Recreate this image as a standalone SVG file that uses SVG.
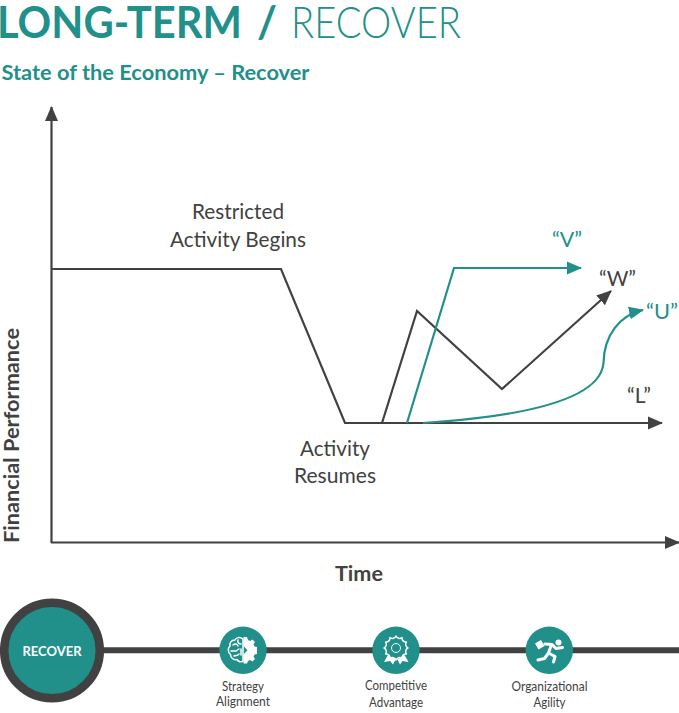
<svg xmlns="http://www.w3.org/2000/svg" width="679" height="713" viewBox="0 0 679 713">
<defs>
<marker id="ad" markerUnits="userSpaceOnUse" markerWidth="15" markerHeight="14" refX="14" refY="7" orient="auto"><path d="M0 0.500L15 7L0 13.500Z" fill="#414141"/></marker>
<marker id="at" markerUnits="userSpaceOnUse" markerWidth="15" markerHeight="14" refX="14" refY="7" orient="auto"><path d="M0 0.500L15 7L0 13.500Z" fill="#21908a"/></marker>
</defs>
<style>
text{font-family:Lato,"Open Sans",sans-serif}
.l{fill:#414141;font-size:21px;text-anchor:middle}
.t{fill:#21908a;font-size:21px;text-anchor:middle}
.s{fill:#414141;font-size:12.500px;text-anchor:middle}
.k{fill:none;stroke:#414141;stroke-width:2.200}
.g{fill:none;stroke:#21908a;stroke-width:2.200}
.w{fill:none;stroke:#fff;stroke-width:1.500;stroke-linejoin:round;stroke-linecap:round}
.f{fill:#fff}
</style>
<g id="title">
<text x="-3" y="38" font-size="43" font-weight="700" fill="#21908a" textLength="245" lengthAdjust="spacingAndGlyphs">LONG-TERM</text>
<text x="257" y="38" font-size="43" font-weight="700" fill="#21908a">/</text>
<text x="291" y="38" font-size="43" font-weight="300" fill="#21908a" textLength="170" lengthAdjust="spacingAndGlyphs">RECOVER</text>
<text x="1.500" y="79.500" font-size="21" font-weight="700" fill="#21908a" textLength="308" lengthAdjust="spacingAndGlyphs">State of the Economy – Recover</text>
</g>
<g id="connectors">
<path class="k" d="M51.500 543V107" marker-end="url(#ad)"/>
<path class="k" d="M51 542.500H679" marker-end="url(#ad)"/>
<path class="k" d="M52 269H281L345 423H662" stroke-width="2.500" marker-end="url(#ad)"/>
<path class="k" d="M382 423L417 311L502 389L611 291" marker-end="url(#ad)"/>
<path class="g" d="M407 423L454 268H581" marker-end="url(#at)"/>
<path class="g" d="M423 423C500 418 600 405 603.500 363C604 335 620 315 643 310" marker-end="url(#at)"/>
<path d="M100 650.300H679" stroke="#414141" stroke-width="6"/>
</g>
<g id="restricted"><text class="l" x="238" y="219" textLength="92" lengthAdjust="spacingAndGlyphs">Restricted</text><text class="l" x="238" y="247" textLength="136" lengthAdjust="spacingAndGlyphs">Activity Begins</text></g>
<g id="resumes"><text class="l" x="335" y="456" textLength="70" lengthAdjust="spacingAndGlyphs">Activity</text><text class="l" x="335" y="483" textLength="82" lengthAdjust="spacingAndGlyphs">Resumes</text></g>
<g id="v"><text class="t" x="567" y="246.500" textLength="30" lengthAdjust="spacingAndGlyphs">“V”</text></g>
<g id="w"><text class="l" x="617.500" y="285.500" textLength="37" lengthAdjust="spacingAndGlyphs">“W”</text></g>
<g id="u"><text class="t" x="662" y="319" textLength="32" lengthAdjust="spacingAndGlyphs">“U”</text></g>
<g id="l"><text class="l" x="639" y="403" textLength="24" lengthAdjust="spacingAndGlyphs">“L”</text></g>
<g id="yaxis"><text class="l" transform="translate(19 435.500) rotate(-90)" font-weight="700" textLength="215" lengthAdjust="spacingAndGlyphs">Financial Performance</text></g>
<g id="xaxis"><text class="l" x="359" y="581" font-weight="700" textLength="48" lengthAdjust="spacingAndGlyphs">Time</text></g>
<g id="recover"><circle cx="52" cy="650.500" r="47.800" fill="#21908a" stroke="#414141" stroke-width="8.500"/><text x="52" y="656" font-size="14" font-weight="700" fill="#fff" text-anchor="middle" textLength="59" lengthAdjust="spacingAndGlyphs">RECOVER</text></g>
<g id="strategy"><circle cx="243" cy="650.300" r="23.700" fill="#21908a"/>
<path class="w" d="M243 639C240 636.500 236 637.500 235 640C231 640 229.500 643 230 646C227.500 648 228 653 230.500 654.500C230.500 658 234 660.500 237 659.500C238.500 662 241.500 662.500 243 661Z"/>
<path class="w" stroke-width="1.200" d="M233 645C235 643 237 644 238 646M231 651H236L239 649M234 656C236 655 238 656 239 654M238 640C237 642 239 644 241 644M241 649V655"/>
<path class="f" d="M243.500 637H247L248 640L250 641L252.500 639.500L255 642L253.500 644.500L254.500 646.500L257 647V654L254.500 654.500L253.500 656.500L255 659L252.500 661.500L250 660L248 661L247 663.500H243.500V654.500L247.500 650.300L243.500 646Z"/>
<text class="s" x="243" y="691" textLength="42" lengthAdjust="spacingAndGlyphs">Strategy</text><text class="s" x="243" y="706" textLength="54" lengthAdjust="spacingAndGlyphs">Alignment</text></g>
<g id="competitive"><circle cx="396" cy="650.300" r="23.700" fill="#21908a"/>
<path class="f" d="M388 655L384 662L390 661L393 664.500L396.500 658L400 664.500L402.500 661L408.500 662L404.500 655L396.500 660Z"/>
<path transform="translate(396 648)" fill="#21908a" stroke="#fff" stroke-width="1.500" stroke-linejoin="round" d="M12 0A4 4 0 0 0 10.400 6A4 4 0 0 0 6 10.400A4 4 0 0 0 0 12A4 4 0 0 0 -6 10.400A4 4 0 0 0 -10.400 6A4 4 0 0 0 -12 0A4 4 0 0 0 -10.400 -6A4 4 0 0 0 -6 -10.400A4 4 0 0 0 0 -12A4 4 0 0 0 6 -10.400A4 4 0 0 0 10.400 -6A4 4 0 0 0 12 0Z"/>
<circle cx="396" cy="648" r="4.500" fill="none" stroke="#fff" stroke-width="1"/>
<text class="s" x="396" y="690" textLength="62" lengthAdjust="spacingAndGlyphs">Competitive</text><text class="s" x="396" y="706.500" textLength="54" lengthAdjust="spacingAndGlyphs">Advantage</text></g>
<g id="organizational"><circle cx="549.300" cy="650.300" r="23.700" fill="#21908a"/>
<circle cx="558.500" cy="642.500" r="3" class="f"/>
<path class="f" d="M535 643.500L541 640L544.500 646L538.500 649.500Z"/>
<path fill="none" stroke="#fff" stroke-width="3" stroke-linecap="round" stroke-linejoin="round" d="M545 644L552 644.500L556 648.500L562.500 647.500M551 646L548.500 653L555 656.500L553.500 662M548.500 653L544.500 658.500L538 660"/>
<text class="s" x="549.500" y="691" textLength="76" lengthAdjust="spacingAndGlyphs">Organizational</text><text class="s" x="549.500" y="707" textLength="32" lengthAdjust="spacingAndGlyphs">Agility</text></g>
</svg>
